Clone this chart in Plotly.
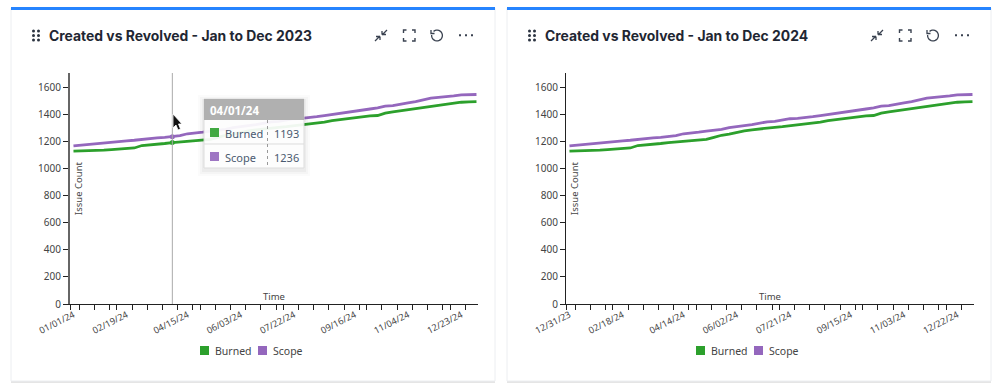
import math
import pandas as pd
import plotly.graph_objects as go

W, H = 998, 387
TITLES = ["Created vs Revolved - Jan to Dec 2023", "Created vs Revolved - Jan to Dec 2024"]
START_DATES = ["2024-01-01", "2023-12-31"]
LABEL_WEEKS = [0, 7, 15, 22, 29, 37, 44, 51]
TICK_DAYS = [-3.2, 5.09, 19.21, 33.03, 39.76, 54.21, 68.03, 81.86, 95.96, 109.46, 116.86, 130.66, 144.46, 158.26, 172.46,
             186.56, 193.66, 207.46, 220.96, 234.76, 249.46, 263.26, 269.76, 283.86, 297.96, 311.86, 325.96, 339.76,
             346.86, 361.26, 372.96]
BURNED = [1130, 1131, 1134, 1136, 1137, 1141, 1145, 1149, 1153, 1171, 1175, 1178, 1186, 1193, 1198, 1206, 1210,
          1214, 1217, 1232, 1247, 1255, 1268, 1279, 1287, 1295, 1301, 1306, 1311, 1317, 1321, 1327, 1334,
          1344, 1355, 1362, 1369, 1375, 1385, 1390, 1393, 1410, 1420, 1428, 1437, 1446, 1454, 1463, 1471,
          1475, 1486, 1491, 1494, 1495]
SCOPE = [1168, 1174, 1180, 1186, 1192, 1197, 1202, 1206, 1210, 1217, 1224, 1228, 1232, 1236, 1244, 1258, 1262,
         1270, 1278, 1284, 1290, 1303, 1308, 1318, 1326, 1337, 1346, 1349, 1358, 1369, 1372, 1376, 1384,
         1392, 1400, 1408, 1414, 1420, 1433, 1441, 1450, 1462, 1466, 1479, 1487, 1496, 1510, 1521, 1527,
         1531, 1538, 1545, 1548, 1548]
HOVER_WEEK = 13
GREEN, PURPLE = "#2ca02c", "#9467bd"
FONT = "Noto Sans"
TITLE_FONT = "Inter"
TEXT = "#444444"

px = lambda x: x / W
py = lambda y: 1 - y / H
shapes, annos = [], []


def rect(x0, y0, x1, y1, fill, line=None, lw=0, op=1.0, layer="above"):
    shapes.append(dict(type="rect", xref="paper", yref="paper", x0=px(x0), x1=px(x1), y0=py(y1), y1=py(y0),
                       fillcolor=fill, opacity=op, layer=layer,
                       line=dict(color=line or fill, width=lw)))


def path(cmds, color="#3a4250", lw=1.3, fill=None):
    out = []
    for c in cmds:
        if c == "Z":
            out.append("Z")
        else:
            out.append(f"{c[0]} {px(c[1]):.5f},{py(c[2]):.5f}")
    shapes.append(dict(type="path", xref="paper", yref="paper", path=" ".join(out), layer="above",
                       fillcolor=fill or "rgba(0,0,0,0)", line=dict(color=color, width=lw)))


def text(x, y, s, size=10, color=TEXT, anchor="center", family=FONT, angle=0, bold=False):
    annos.append(dict(xref="paper", yref="paper", x=px(x), y=py(y), text=f"<b>{s}</b>" if bold else s, showarrow=False,
                      xanchor=anchor, yanchor="middle", textangle=angle,
                      font=dict(size=size, color=color, family=family)))


def seg(*pts):
    return [("M" if i == 0 else "L", p[0], p[1]) for i, p in enumerate(pts)]


def icons(dx):
    # compress arrows
    for a in (seg((375+dx, 41), (380+dx, 36)) + seg((376+dx, 36.5), (380+dx, 36.5)) + seg((380+dx, 36.5), (380+dx, 40)),
              seg((387+dx, 30), (382+dx, 35)) + seg((382+dx, 31), (382+dx, 34.5)) + seg((382+dx, 34.5), (386+dx, 34.5))):
        path(a)
    # fullscreen corners
    x0, x1, y0, y1 = 403.5+dx, 415+dx, 30, 41
    for a in (seg((x0, y0+3), (x0, y0), (x0+3, y0)), seg((x1-3, y0), (x1, y0), (x1, y0+3)),
              seg((x0, y1-3), (x0, y1), (x0+3, y1)), seg((x1-3, y1), (x1, y1), (x1, y1-3))):
        path(a, lw=1.4)
    # reset
    cx, cy, r = 437+dx, 35.5, 5.4
    pts = [(cx + r*math.cos(math.radians(t)), cy + r*math.sin(math.radians(t))) for t in range(-130, 200, 15)]
    path(seg(*pts), lw=1.3)
    path(seg((431+dx, 30), (431+dx, 33.5), (434.5+dx, 33.5)), lw=1.3)
    # ellipsis
    for cxx in (460, 466, 472):
        rect(cxx+dx-1, 34.2, cxx+dx+1, 36.2, "#3a4250")
    # grip dots
    for gx in (33.5, 38.5):
        for gy in (31, 35.5, 40):
            shapes.append(dict(type="circle", xref="paper", yref="paper", x0=px(gx-1.5+dx), x1=px(gx+1.5+dx),
                               y0=py(gy+1.5), y1=py(gy-1.5), fillcolor="#2b3340", line=dict(width=0), layer="above"))


fig = go.Figure()
for i, (start, title) in enumerate(zip(START_DATES, TITLES)):
    dx = 496 * i
    s = "" if i == 0 else "2"
    dates = pd.date_range(start, periods=len(BURNED), freq="7D")
    first = dates[0]
    fig.add_trace(go.Scatter(x=dates, y=BURNED, mode="lines", name="Burned", xaxis="x"+s, yaxis="y"+s,
                             line=dict(color=GREEN, width=2.8), showlegend=False))
    fig.add_trace(go.Scatter(x=dates, y=SCOPE, mode="lines", name="Scope", xaxis="x"+s, yaxis="y"+s,
                             line=dict(color=PURPLE, width=2.8), showlegend=False))
    axis_color = "#222222"
    fig.update_layout({
        "xaxis"+s: dict(domain=[px(70+dx), px(478+dx)], anchor="y"+s, type="date", automargin=False,
                        range=[first - pd.Timedelta(days=3.2), dates[-1] + pd.Timedelta(days=1.4)],
                        tickmode="array", tickvals=[dates[k] for k in LABEL_WEEKS],
                        ticktext=[dates[k].strftime("%m/%d/%y") for k in LABEL_WEEKS],
                        tickangle=-27, ticks="outside", ticklen=1, tickcolor="rgba(0,0,0,0)",
                        tickfont=dict(size=9.2, color=TEXT, family=FONT), showgrid=False, zeroline=False,
                        showline=True, linecolor=axis_color, linewidth=1,
                        minor=dict(tickmode="array", tickvals=[first + pd.Timedelta(days=d) for d in TICK_DAYS],
                                   ticks="outside", ticklen=5, tickcolor=axis_color, tickwidth=1, showgrid=False)),
        "yaxis"+s: dict(domain=[py(304), py(73)], anchor="x"+s, range=[0, 1707], tickmode="array", automargin=False,
                        tickvals=list(range(0, 1601, 200)), ticks="outside", ticklen=5, tickcolor=axis_color,
                        tickfont=dict(size=10, color=TEXT, family=FONT), showgrid=False, zeroline=False,
                        showline=True, linecolor=axis_color if i else "#666666", linewidth=1 if i else 2),
    })
    # card
    rect(11+dx, 9, 495+dx, 383, "rgba(0,0,0,0.10)", layer="below")
    rect(11+dx, 8, 495+dx, 381, "#ffffff", line="#eceef1", lw=1, layer="below")
    rect(11+dx, 7, 495+dx, 10, "#2684ff")
    text(46.5+dx, 35.5, title, size=13.9, color="#1f2733", anchor="left", family=TITLE_FONT, bold=True)
    icons(dx)
    text(274+dx, 296, "Time", size=9.5)
    text(78+dx, 188, "Issue Count", size=9.5, angle=-90)
    rect(200+dx, 346, 209+dx, 355, GREEN)
    text(212.5+dx, 350.5, "Burned", size=10.5, anchor="left")
    rect(258+dx, 346, 267+dx, 355, PURPLE)
    text(270.5+dx, 350.5, "Scope", size=10.5, anchor="left")

# crosshair and hover markers on the first chart
hover_date = pd.date_range(START_DATES[0], periods=len(BURNED), freq="7D")[HOVER_WEEK]
fig.add_trace(go.Scatter(x=[hover_date, hover_date], y=[BURNED[HOVER_WEEK], SCOPE[HOVER_WEEK]], mode="markers",
                         marker=dict(size=5, color=[GREEN, PURPLE]), showlegend=False, xaxis="x", yaxis="y"))
crosshair = dict(type="line", xref="x", yref="y domain", x0=hover_date, x1=hover_date, y0=0, y1=1,
                 line=dict(color="#aaaaaa", width=1), layer="above")

# tooltip
for k, op in ((6, .015), (4, .025), (2, .035)):
    rect(204-k, 99-k+2, 304+k, 168+k+2, "#000000", op=op)
rect(204, 99, 304, 168, "#ffffff", line="#dddddd", lw=1, op=0.93)
rect(204, 99, 304, 120, "#b0b0b0")
text(208, 110, "04/01/24", size=11.5, color="#ffffff", anchor="left", bold=True)
path(seg((204, 144), (304, 144)), color="#dddddd", lw=1)
shapes.append(dict(type="line", xref="paper", yref="paper", x0=px(267.5), x1=px(267.5), y0=py(120), y1=py(168),
                   line=dict(color="#999999", width=1, dash="dot"), layer="above"))
rect(210, 128, 219, 137, GREEN, op=.9)
rect(210, 152, 219, 161, PURPLE, op=.9)
TT = "#4a5a70"
text(222.5, 133, "Burned", size=11, color=TT, anchor="left")
text(222.5, 157, "Scope", size=11, color=TT, anchor="left")
text(286, 133, str(BURNED[HOVER_WEEK]), size=11, color=TT)
text(286, 157, str(SCOPE[HOVER_WEEK]), size=11, color=TT)
# pointer
path(seg((173, 114), (173, 128), (176, 125), (178, 130), (180.5, 129), (178.5, 124), (182, 124)) + ["Z"],
     color="#ffffff", lw=0.8, fill="#111111")

fig.update_layout(width=W, height=H, autosize=False, margin=dict(l=0, r=0, t=0, b=0),
                  paper_bgcolor="#ffffff", plot_bgcolor="rgba(0,0,0,0)", showlegend=False,
                  shapes=[crosshair] + shapes, annotations=annos)
fig.write_html("out.html", config={"displayModeBar": False},
               post_script="document.body.style.margin='0';")
